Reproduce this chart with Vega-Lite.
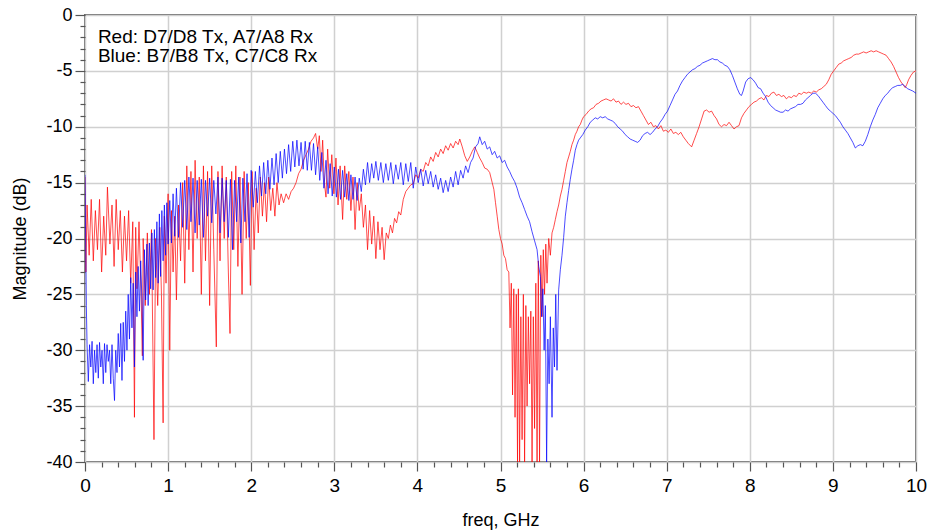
{
"$schema": "https://vega.github.io/schema/vega-lite/v6.json",
"width": 831, "height": 447,
"autosize": {"type": "none"},
"padding": {"left": 85, "top": 15, "right": 11, "bottom": 69},
"background": "white",
"config": {
  "font": "Liberation Sans",
  "view": {"stroke": "#6e6e6e", "strokeWidth": 2},
  "axis": {"labelFont": "Liberation Sans", "titleFont": "Liberation Sans", "labelColor": "#000", "titleColor": "#000", "titleFontWeight": "normal", "labelFontSize": 18, "titleFontSize": 18, "domain": false, "tickColor": "#555", "tickWidth": 1.2, "gridColor": "#d0d0d0", "gridWidth": 1.5}
},
"datasets": {
"red": [
{"f":0.000,"db":-14.5},{"f":0.010,"db":-23},{"f":0.025,"db":-17},{"f":0.050,"db":-21.5},{"f":0.075,"db":-16.5},{"f":0.100,"db":-22},{"f":0.125,"db":-17.5},{"f":0.150,"db":-21},{"f":0.175,"db":-16.5},{"f":0.200,"db":-23},{"f":0.225,"db":-18},{"f":0.250,"db":-21.5},{"f":0.270,"db":-15.4},{"f":0.300,"db":-20.5},{"f":0.325,"db":-17},{"f":0.350,"db":-22.5},{"f":0.375,"db":-16.5},{"f":0.400,"db":-21},{"f":0.425,"db":-17.5},{"f":0.450,"db":-23},{"f":0.475,"db":-18},{"f":0.500,"db":-22},{"f":0.525,"db":-17.5},{"f":0.550,"db":-24},{"f":0.575,"db":-18.5},{"f":0.595,"db":-36},{"f":0.610,"db":-19},{"f":0.625,"db":-24.5},{"f":0.650,"db":-18.5},{"f":0.675,"db":-25},{"f":0.690,"db":-30.5},{"f":0.700,"db":-20},{"f":0.725,"db":-26},{"f":0.750,"db":-19.5},{"f":0.775,"db":-25},{"f":0.800,"db":-19.2},{"f":0.830,"db":-38},{"f":0.850,"db":-20},{"f":0.875,"db":-26},{"f":0.900,"db":-19},{"f":0.920,"db":-25},{"f":0.940,"db":-36.5},{"f":0.955,"db":-18},{"f":0.975,"db":-24},{"f":1.000,"db":-16},{"f":1.020,"db":-30},{"f":1.040,"db":-17.5},{"f":1.060,"db":-23},{"f":1.080,"db":-18},{"f":1.100,"db":-25.5},{"f":1.125,"db":-17},{"f":1.150,"db":-22},{"f":1.175,"db":-15},{"f":1.200,"db":-24},{"f":1.225,"db":-13.5},{"f":1.250,"db":-21},{"f":1.275,"db":-14},{"f":1.300,"db":-23},{"f":1.325,"db":-13},{"f":1.350,"db":-20},{"f":1.375,"db":-14.5},{"f":1.400,"db":-25},{"f":1.425,"db":-13.5},{"f":1.450,"db":-22},{"f":1.475,"db":-14},{"f":1.500,"db":-26},{"f":1.525,"db":-13.5},{"f":1.550,"db":-21},{"f":1.580,"db":-29.7},{"f":1.600,"db":-14},{"f":1.625,"db":-22},{"f":1.650,"db":-13.5},{"f":1.675,"db":-20},{"f":1.700,"db":-14.5},{"f":1.725,"db":-23},{"f":1.745,"db":-28.5},{"f":1.765,"db":-14},{"f":1.790,"db":-21},{"f":1.815,"db":-13.5},{"f":1.840,"db":-22.5},{"f":1.865,"db":-14.5},{"f":1.890,"db":-25},{"f":1.915,"db":-14},{"f":1.940,"db":-20},{"f":1.965,"db":-15},{"f":1.990,"db":-24.2},{"f":2.010,"db":-14},{"f":2.035,"db":-21},{"f":2.060,"db":-15.5},{"f":2.085,"db":-19.5},{"f":2.110,"db":-14.5},{"f":2.135,"db":-18},{"f":2.160,"db":-15},{"f":2.185,"db":-18.5},{"f":2.210,"db":-14.5},{"f":2.235,"db":-17.5},{"f":2.260,"db":-15.5},{"f":2.285,"db":-18},{"f":2.310,"db":-15},{"f":2.335,"db":-17},{"f":2.360,"db":-16},{"f":2.390,"db":-16.8},{"f":2.420,"db":-16},{"f":2.450,"db":-16.5},{"f":2.480,"db":-15.8},{"f":2.510,"db":-15.5},{"f":2.540,"db":-15},{"f":2.570,"db":-14.2},{"f":2.600,"db":-13.8},{"f":2.630,"db":-13},{"f":2.660,"db":-12.5},{"f":2.690,"db":-12},{"f":2.720,"db":-11.3},{"f":2.750,"db":-11},{"f":2.775,"db":-10.6},{"f":2.800,"db":-12},{"f":2.820,"db":-10.8},{"f":2.840,"db":-14},{"f":2.860,"db":-11.2},{"f":2.880,"db":-15},{"f":2.900,"db":-16.3},{"f":2.920,"db":-12},{"f":2.945,"db":-15.5},{"f":2.970,"db":-12.5},{"f":2.995,"db":-16},{"f":3.020,"db":-12.8},{"f":3.045,"db":-17},{"f":3.070,"db":-13.5},{"f":3.100,"db":-18.3},{"f":3.125,"db":-13.5},{"f":3.150,"db":-16.5},{"f":3.175,"db":-14},{"f":3.200,"db":-17.5},{"f":3.225,"db":-14.5},{"f":3.250,"db":-19.2},{"f":3.275,"db":-15},{"f":3.300,"db":-17.5},{"f":3.325,"db":-16},{"f":3.350,"db":-19},{"f":3.375,"db":-17},{"f":3.400,"db":-21},{"f":3.425,"db":-17.5},{"f":3.450,"db":-20.5},{"f":3.475,"db":-18},{"f":3.500,"db":-21.8},{"f":3.525,"db":-18.5},{"f":3.550,"db":-21},{"f":3.575,"db":-19},{"f":3.600,"db":-21.9},{"f":3.625,"db":-19.5},{"f":3.650,"db":-20},{"f":3.675,"db":-18.8},{"f":3.700,"db":-19.5},{"f":3.725,"db":-18.2},{"f":3.750,"db":-18.6},{"f":3.775,"db":-17.6},{"f":3.800,"db":-17.9},{"f":3.830,"db":-16.5},{"f":3.860,"db":-15.8},{"f":3.890,"db":-15.5},{"f":3.920,"db":-15.2},{"f":3.950,"db":-15.1},{"f":3.980,"db":-14.3},{"f":4.010,"db":-14.6},{"f":4.040,"db":-13.8},{"f":4.070,"db":-14},{"f":4.100,"db":-13.2},{"f":4.130,"db":-13.5},{"f":4.160,"db":-12.7},{"f":4.190,"db":-13.1},{"f":4.220,"db":-12.3},{"f":4.250,"db":-12.7},{"f":4.280,"db":-12},{"f":4.310,"db":-12.4},{"f":4.340,"db":-11.7},{"f":4.370,"db":-12.1},{"f":4.400,"db":-11.5},{"f":4.430,"db":-11.9},{"f":4.460,"db":-11.3},{"f":4.490,"db":-11.6},{"f":4.510,"db":-11.1},{"f":4.540,"db":-11.8},{"f":4.570,"db":-12.6},{"f":4.600,"db":-13.1},{"f":4.630,"db":-12.7},{"f":4.660,"db":-12.2},{"f":4.690,"db":-11.8},{"f":4.720,"db":-12.3},{"f":4.750,"db":-12.8},{"f":4.780,"db":-13.2},{"f":4.810,"db":-13.7},{"f":4.840,"db":-13.8},{"f":4.870,"db":-14.1},{"f":4.900,"db":-15},{"f":4.920,"db":-15.6},{"f":4.940,"db":-16.8},{"f":4.960,"db":-18},{"f":4.980,"db":-19.2},{"f":5.000,"db":-20},{"f":5.020,"db":-20.5},{"f":5.040,"db":-21.5},{"f":5.060,"db":-21.8},{"f":5.080,"db":-22.8},{"f":5.100,"db":-23},{"f":5.115,"db":-28},{"f":5.130,"db":-24},{"f":5.145,"db":-34},{"f":5.160,"db":-24.5},{"f":5.175,"db":-36},{"f":5.190,"db":-25},{"f":5.205,"db":-40},{"f":5.215,"db":-24.5},{"f":5.230,"db":-40},{"f":5.245,"db":-27},{"f":5.260,"db":-38},{"f":5.275,"db":-25},{"f":5.290,"db":-40},{"f":5.305,"db":-26},{"f":5.320,"db":-35},{"f":5.335,"db":-27},{"f":5.350,"db":-33},{"f":5.365,"db":-26.5},{"f":5.380,"db":-40},{"f":5.395,"db":-27},{"f":5.410,"db":-37},{"f":5.425,"db":-24},{"f":5.440,"db":-40},{"f":5.455,"db":-22},{"f":5.470,"db":-40},{"f":5.485,"db":-21.5},{"f":5.500,"db":-27},{"f":5.515,"db":-21},{"f":5.530,"db":-25},{"f":5.545,"db":-20.5},{"f":5.560,"db":-24},{"f":5.580,"db":-20},{"f":5.600,"db":-21.5},{"f":5.620,"db":-19.5},{"f":5.640,"db":-19},{"f":5.660,"db":-18.3},{"f":5.680,"db":-17.6},{"f":5.700,"db":-17},{"f":5.720,"db":-16.2},{"f":5.740,"db":-15.6},{"f":5.760,"db":-14.8},{"f":5.780,"db":-14},{"f":5.800,"db":-13.2},{"f":5.820,"db":-12.7},{"f":5.840,"db":-12.2},{"f":5.860,"db":-11.6},{"f":5.880,"db":-11.2},{"f":5.900,"db":-10.7},{"f":5.920,"db":-10.4},{"f":5.940,"db":-10},{"f":5.960,"db":-9.8},{"f":5.980,"db":-9.4},{"f":6.000,"db":-9.1},{"f":6.030,"db":-8.9},{"f":6.060,"db":-8.6},{"f":6.090,"db":-8.4},{"f":6.120,"db":-8.3},{"f":6.150,"db":-8.0},{"f":6.180,"db":-7.9},{"f":6.210,"db":-7.7},{"f":6.240,"db":-7.6},{"f":6.270,"db":-7.5},{"f":6.300,"db":-7.6},{"f":6.330,"db":-7.7},{"f":6.360,"db":-7.5},{"f":6.390,"db":-7.8},{"f":6.420,"db":-7.7},{"f":6.450,"db":-8.0},{"f":6.480,"db":-7.8},{"f":6.510,"db":-8.0},{"f":6.540,"db":-7.9},{"f":6.570,"db":-8.2},{"f":6.600,"db":-8.1},{"f":6.630,"db":-8.3},{"f":6.660,"db":-8.2},{"f":6.690,"db":-8.6},{"f":6.720,"db":-9.0},{"f":6.750,"db":-9.4},{"f":6.780,"db":-9.8},{"f":6.810,"db":-9.6},{"f":6.840,"db":-10.0},{"f":6.870,"db":-9.9},{"f":6.900,"db":-10.2},{"f":6.930,"db":-9.9},{"f":6.960,"db":-10.4},{"f":6.990,"db":-10.3},{"f":7.020,"db":-10.5},{"f":7.050,"db":-10.2},{"f":7.080,"db":-10.6},{"f":7.110,"db":-10.5},{"f":7.140,"db":-10.7},{"f":7.170,"db":-10.5},{"f":7.200,"db":-10.9},{"f":7.230,"db":-11.2},{"f":7.260,"db":-11.5},{"f":7.300,"db":-11.8},{"f":7.330,"db":-11.2},{"f":7.360,"db":-10.6},{"f":7.390,"db":-10.0},{"f":7.420,"db":-9.3},{"f":7.450,"db":-8.6},{"f":7.480,"db":-8.5},{"f":7.510,"db":-8.7},{"f":7.540,"db":-8.6},{"f":7.570,"db":-9.0},{"f":7.600,"db":-9.3},{"f":7.630,"db":-9.8},{"f":7.660,"db":-10.0},{"f":7.690,"db":-9.8},{"f":7.720,"db":-9.9},{"f":7.750,"db":-9.6},{"f":7.780,"db":-9.9},{"f":7.810,"db":-10.2},{"f":7.840,"db":-10.0},{"f":7.870,"db":-9.9},{"f":7.900,"db":-9.2},{"f":7.930,"db":-8.8},{"f":7.960,"db":-8.5},{"f":7.990,"db":-8.2},{"f":8.020,"db":-8.0},{"f":8.050,"db":-7.8},{"f":8.080,"db":-7.7},{"f":8.110,"db":-7.5},{"f":8.140,"db":-7.4},{"f":8.170,"db":-7.6},{"f":8.200,"db":-7.2},{"f":8.230,"db":-7.3},{"f":8.260,"db":-7.0},{"f":8.290,"db":-6.9},{"f":8.320,"db":-7.2},{"f":8.350,"db":-7.1},{"f":8.380,"db":-7.3},{"f":8.410,"db":-7.2},{"f":8.440,"db":-7.5},{"f":8.470,"db":-7.3},{"f":8.500,"db":-7.4},{"f":8.530,"db":-7.2},{"f":8.560,"db":-7.3},{"f":8.590,"db":-7.0},{"f":8.620,"db":-7.1},{"f":8.650,"db":-6.9},{"f":8.680,"db":-7.0},{"f":8.710,"db":-6.9},{"f":8.740,"db":-7.0},{"f":8.770,"db":-6.8},{"f":8.800,"db":-6.9},{"f":8.830,"db":-6.7},{"f":8.860,"db":-6.6},{"f":8.890,"db":-6.4},{"f":8.920,"db":-6.2},{"f":8.950,"db":-5.8},{"f":8.980,"db":-5.3},{"f":9.010,"db":-5.0},{"f":9.040,"db":-4.7},{"f":9.070,"db":-4.4},{"f":9.100,"db":-4.3},{"f":9.130,"db":-4.1},{"f":9.160,"db":-4.0},{"f":9.190,"db":-3.9},{"f":9.220,"db":-3.8},{"f":9.250,"db":-3.6},{"f":9.280,"db":-3.5},{"f":9.310,"db":-3.5},{"f":9.340,"db":-3.4},{"f":9.370,"db":-3.3},{"f":9.400,"db":-3.4},{"f":9.430,"db":-3.3},{"f":9.460,"db":-3.2},{"f":9.490,"db":-3.3},{"f":9.520,"db":-3.2},{"f":9.550,"db":-3.3},{"f":9.580,"db":-3.4},{"f":9.610,"db":-3.5},{"f":9.640,"db":-3.6},{"f":9.670,"db":-3.9},{"f":9.700,"db":-4.2},{"f":9.730,"db":-4.6},{"f":9.760,"db":-5.1},{"f":9.790,"db":-5.6},{"f":9.820,"db":-6.0},{"f":9.850,"db":-6.3},{"f":9.870,"db":-6.5},{"f":9.890,"db":-6.2},{"f":9.910,"db":-5.8},{"f":9.940,"db":-5.4},{"f":9.970,"db":-5.1},{"f":10.000,"db":-5.0}
],
"blue": [
{"f":0.000,"db":-14.3},{"f":0.008,"db":-20},{"f":0.016,"db":-26},{"f":0.025,"db":-29.5},{"f":0.040,"db":-32.8},{"f":0.055,"db":-29.5},{"f":0.070,"db":-31.5},{"f":0.085,"db":-29.2},{"f":0.100,"db":-33},{"f":0.115,"db":-30},{"f":0.130,"db":-32},{"f":0.145,"db":-29.5},{"f":0.160,"db":-32.5},{"f":0.175,"db":-29.3},{"f":0.190,"db":-31.5},{"f":0.205,"db":-30},{"f":0.220,"db":-33},{"f":0.235,"db":-29.4},{"f":0.250,"db":-32},{"f":0.265,"db":-29.5},{"f":0.280,"db":-31},{"f":0.295,"db":-30},{"f":0.310,"db":-33},{"f":0.325,"db":-29.5},{"f":0.340,"db":-32.5},{"f":0.355,"db":-34.5},{"f":0.370,"db":-30},{"f":0.385,"db":-32},{"f":0.400,"db":-28.5},{"f":0.415,"db":-31.5},{"f":0.430,"db":-27.6},{"f":0.445,"db":-32.7},{"f":0.460,"db":-27.5},{"f":0.475,"db":-31},{"f":0.490,"db":-26.5},{"f":0.505,"db":-30},{"f":0.520,"db":-25},{"f":0.535,"db":-29},{"f":0.550,"db":-23.5},{"f":0.565,"db":-28},{"f":0.580,"db":-24},{"f":0.595,"db":-31.5},{"f":0.610,"db":-23},{"f":0.625,"db":-27},{"f":0.640,"db":-22.5},{"f":0.655,"db":-26.5},{"f":0.670,"db":-22},{"f":0.685,"db":-25.5},{"f":0.700,"db":-30.9},{"f":0.715,"db":-21},{"f":0.730,"db":-25.5},{"f":0.745,"db":-20.5},{"f":0.760,"db":-26},{"f":0.775,"db":-20.4},{"f":0.790,"db":-24.5},{"f":0.805,"db":-19.5},{"f":0.820,"db":-24.6},{"f":0.835,"db":-19.2},{"f":0.850,"db":-23.5},{"f":0.865,"db":-18.5},{"f":0.880,"db":-24},{"f":0.895,"db":-17.8},{"f":0.910,"db":-23.4},{"f":0.925,"db":-17.5},{"f":0.940,"db":-22},{"f":0.955,"db":-17},{"f":0.970,"db":-21.5},{"f":0.985,"db":-16.8},{"f":1.000,"db":-20.5},{"f":1.020,"db":-16.6},{"f":1.040,"db":-20.4},{"f":1.060,"db":-16},{"f":1.080,"db":-19.8},{"f":1.100,"db":-15.5},{"f":1.125,"db":-19.9},{"f":1.150,"db":-15},{"f":1.175,"db":-19},{"f":1.200,"db":-14.8},{"f":1.225,"db":-19.2},{"f":1.250,"db":-14.5},{"f":1.275,"db":-18.5},{"f":1.300,"db":-14.6},{"f":1.325,"db":-19.5},{"f":1.350,"db":-14.8},{"f":1.375,"db":-18.8},{"f":1.400,"db":-14.7},{"f":1.425,"db":-19.9},{"f":1.450,"db":-14.8},{"f":1.475,"db":-18},{"f":1.500,"db":-14.6},{"f":1.525,"db":-18.6},{"f":1.550,"db":-14.8},{"f":1.575,"db":-17.8},{"f":1.600,"db":-14.5},{"f":1.625,"db":-19.5},{"f":1.650,"db":-14.6},{"f":1.675,"db":-18.5},{"f":1.700,"db":-14.8},{"f":1.725,"db":-19.9},{"f":1.750,"db":-14.7},{"f":1.775,"db":-21},{"f":1.800,"db":-14.8},{"f":1.825,"db":-18.5},{"f":1.850,"db":-14.5},{"f":1.875,"db":-20.4},{"f":1.900,"db":-14.6},{"f":1.925,"db":-18.5},{"f":1.950,"db":-14.2},{"f":1.975,"db":-19.9},{"f":2.000,"db":-13.9},{"f":2.025,"db":-17.2},{"f":2.050,"db":-14},{"f":2.075,"db":-16.8},{"f":2.100,"db":-13.5},{"f":2.125,"db":-16.2},{"f":2.150,"db":-13.2},{"f":2.175,"db":-16},{"f":2.200,"db":-13},{"f":2.225,"db":-15.6},{"f":2.250,"db":-12.8},{"f":2.275,"db":-15.2},{"f":2.300,"db":-12.4},{"f":2.325,"db":-15},{"f":2.350,"db":-12.2},{"f":2.375,"db":-14.6},{"f":2.400,"db":-12},{"f":2.425,"db":-14.2},{"f":2.450,"db":-11.6},{"f":2.475,"db":-14},{"f":2.500,"db":-11.3},{"f":2.525,"db":-13.6},{"f":2.550,"db":-11.2},{"f":2.575,"db":-13.5},{"f":2.600,"db":-11.4},{"f":2.625,"db":-13.8},{"f":2.650,"db":-11.3},{"f":2.675,"db":-13.9},{"f":2.700,"db":-11.4},{"f":2.725,"db":-13.9},{"f":2.750,"db":-11.5},{"f":2.775,"db":-14.3},{"f":2.800,"db":-11.8},{"f":2.825,"db":-14.8},{"f":2.850,"db":-12.3},{"f":2.875,"db":-15.5},{"f":2.900,"db":-13},{"f":2.925,"db":-16},{"f":2.950,"db":-13.3},{"f":2.975,"db":-16.2},{"f":3.000,"db":-13.6},{"f":3.025,"db":-16.3},{"f":3.050,"db":-13.8},{"f":3.075,"db":-16.5},{"f":3.100,"db":-13.9},{"f":3.125,"db":-16.3},{"f":3.150,"db":-14.2},{"f":3.175,"db":-16.6},{"f":3.200,"db":-14.3},{"f":3.225,"db":-16.5},{"f":3.250,"db":-14.5},{"f":3.275,"db":-16.6},{"f":3.300,"db":-14.6},{"f":3.325,"db":-15.8},{"f":3.350,"db":-13.8},{"f":3.375,"db":-15.2},{"f":3.400,"db":-13.2},{"f":3.425,"db":-15},{"f":3.450,"db":-13.3},{"f":3.475,"db":-14.6},{"f":3.500,"db":-13.1},{"f":3.530,"db":-14.8},{"f":3.560,"db":-13.2},{"f":3.590,"db":-15},{"f":3.620,"db":-13.3},{"f":3.650,"db":-14.8},{"f":3.680,"db":-13.2},{"f":3.710,"db":-15.1},{"f":3.740,"db":-13.4},{"f":3.770,"db":-14.7},{"f":3.800,"db":-13.2},{"f":3.830,"db":-15.2},{"f":3.860,"db":-13.3},{"f":3.890,"db":-14.9},{"f":3.920,"db":-13.2},{"f":3.950,"db":-15.5},{"f":3.980,"db":-13.6},{"f":4.010,"db":-15},{"f":4.040,"db":-13.8},{"f":4.070,"db":-15.3},{"f":4.100,"db":-13.9},{"f":4.130,"db":-15.1},{"f":4.160,"db":-14},{"f":4.190,"db":-15.4},{"f":4.220,"db":-14.3},{"f":4.250,"db":-15.6},{"f":4.280,"db":-14.6},{"f":4.310,"db":-15.9},{"f":4.340,"db":-14.8},{"f":4.370,"db":-15.8},{"f":4.400,"db":-14.5},{"f":4.430,"db":-15.4},{"f":4.460,"db":-14},{"f":4.490,"db":-15.2},{"f":4.520,"db":-13.9},{"f":4.550,"db":-14.6},{"f":4.580,"db":-13.5},{"f":4.610,"db":-14.1},{"f":4.640,"db":-13.2},{"f":4.670,"db":-12.8},{"f":4.700,"db":-11.8},{"f":4.730,"db":-11.5},{"f":4.750,"db":-10.9},{"f":4.780,"db":-11.6},{"f":4.810,"db":-11.3},{"f":4.840,"db":-12},{"f":4.870,"db":-11.8},{"f":4.900,"db":-12.5},{"f":4.930,"db":-12.2},{"f":4.960,"db":-12.8},{"f":4.990,"db":-12.6},{"f":5.020,"db":-13.2},{"f":5.050,"db":-13},{"f":5.080,"db":-13.6},{"f":5.110,"db":-14},{"f":5.140,"db":-14.5},{"f":5.170,"db":-14.9},{"f":5.200,"db":-15.5},{"f":5.230,"db":-16.3},{"f":5.260,"db":-16.8},{"f":5.290,"db":-17.4},{"f":5.320,"db":-18},{"f":5.350,"db":-18.5},{"f":5.380,"db":-19.4},{"f":5.410,"db":-20.2},{"f":5.440,"db":-21},{"f":5.460,"db":-22.5},{"f":5.480,"db":-23.4},{"f":5.495,"db":-27},{"f":5.510,"db":-24.5},{"f":5.525,"db":-30},{"f":5.540,"db":-26},{"f":5.555,"db":-40},{"f":5.570,"db":-29},{"f":5.585,"db":-33},{"f":5.600,"db":-27},{"f":5.620,"db":-36},{"f":5.635,"db":-28},{"f":5.650,"db":-31.5},{"f":5.665,"db":-25},{"f":5.680,"db":-31.8},{"f":5.700,"db":-24.6},{"f":5.720,"db":-22.8},{"f":5.740,"db":-21.5},{"f":5.760,"db":-19.9},{"f":5.780,"db":-18},{"f":5.800,"db":-16.8},{"f":5.820,"db":-15.7},{"f":5.840,"db":-14.7},{"f":5.860,"db":-13.8},{"f":5.880,"db":-13},{"f":5.900,"db":-12.1},{"f":5.920,"db":-11.6},{"f":5.940,"db":-11.2},{"f":5.960,"db":-11.0},{"f":5.990,"db":-10.7},{"f":6.020,"db":-10.3},{"f":6.050,"db":-10.0},{"f":6.080,"db":-9.6},{"f":6.110,"db":-9.4},{"f":6.140,"db":-9.2},{"f":6.170,"db":-9.3},{"f":6.200,"db":-9.1},{"f":6.230,"db":-9.2},{"f":6.260,"db":-9.1},{"f":6.290,"db":-9.3},{"f":6.320,"db":-9.4},{"f":6.350,"db":-9.5},{"f":6.380,"db":-9.7},{"f":6.410,"db":-10.0},{"f":6.440,"db":-10.2},{"f":6.470,"db":-10.4},{"f":6.500,"db":-10.7},{"f":6.530,"db":-10.9},{"f":6.560,"db":-11.1},{"f":6.590,"db":-11.2},{"f":6.620,"db":-11.3},{"f":6.650,"db":-11.4},{"f":6.680,"db":-11.2},{"f":6.710,"db":-10.8},{"f":6.740,"db":-10.6},{"f":6.770,"db":-10.5},{"f":6.800,"db":-10.7},{"f":6.830,"db":-10.5},{"f":6.860,"db":-10.2},{"f":6.890,"db":-10.0},{"f":6.920,"db":-9.6},{"f":6.950,"db":-9.3},{"f":6.980,"db":-8.9},{"f":7.010,"db":-8.6},{"f":7.040,"db":-8.1},{"f":7.070,"db":-7.6},{"f":7.100,"db":-7.1},{"f":7.130,"db":-6.8},{"f":7.160,"db":-6.3},{"f":7.190,"db":-5.9},{"f":7.220,"db":-5.6},{"f":7.250,"db":-5.3},{"f":7.280,"db":-5.1},{"f":7.310,"db":-4.9},{"f":7.340,"db":-4.8},{"f":7.370,"db":-4.6},{"f":7.400,"db":-4.5},{"f":7.430,"db":-4.3},{"f":7.460,"db":-4.2},{"f":7.490,"db":-4.1},{"f":7.520,"db":-4.0},{"f":7.550,"db":-3.9},{"f":7.580,"db":-4.0},{"f":7.610,"db":-4.0},{"f":7.640,"db":-4.2},{"f":7.670,"db":-4.3},{"f":7.700,"db":-4.5},{"f":7.730,"db":-4.6},{"f":7.760,"db":-4.9},{"f":7.790,"db":-5.4},{"f":7.820,"db":-6.0},{"f":7.850,"db":-6.6},{"f":7.880,"db":-7.1},{"f":7.900,"db":-7.2},{"f":7.920,"db":-6.8},{"f":7.950,"db":-6.0},{"f":7.980,"db":-5.7},{"f":8.010,"db":-5.6},{"f":8.040,"db":-5.8},{"f":8.070,"db":-6.1},{"f":8.100,"db":-6.5},{"f":8.130,"db":-6.6},{"f":8.160,"db":-7.0},{"f":8.190,"db":-7.3},{"f":8.220,"db":-7.8},{"f":8.250,"db":-8.1},{"f":8.280,"db":-8.3},{"f":8.310,"db":-8.5},{"f":8.340,"db":-8.6},{"f":8.370,"db":-8.7},{"f":8.400,"db":-8.7},{"f":8.430,"db":-8.5},{"f":8.460,"db":-8.6},{"f":8.490,"db":-8.4},{"f":8.520,"db":-8.3},{"f":8.550,"db":-8.2},{"f":8.580,"db":-8.0},{"f":8.610,"db":-8.0},{"f":8.640,"db":-7.9},{"f":8.670,"db":-7.6},{"f":8.700,"db":-7.4},{"f":8.730,"db":-7.2},{"f":8.760,"db":-7.0},{"f":8.790,"db":-7.0},{"f":8.820,"db":-7.2},{"f":8.850,"db":-7.5},{"f":8.880,"db":-7.8},{"f":8.910,"db":-8.1},{"f":8.940,"db":-8.4},{"f":8.970,"db":-8.6},{"f":9.000,"db":-8.8},{"f":9.030,"db":-9.0},{"f":9.060,"db":-9.3},{"f":9.090,"db":-9.6},{"f":9.120,"db":-10.0},{"f":9.150,"db":-10.3},{"f":9.180,"db":-10.6},{"f":9.210,"db":-11.0},{"f":9.240,"db":-11.4},{"f":9.270,"db":-11.9},{"f":9.300,"db":-11.7},{"f":9.330,"db":-11.6},{"f":9.360,"db":-11.7},{"f":9.390,"db":-11.3},{"f":9.420,"db":-10.7},{"f":9.450,"db":-10.0},{"f":9.480,"db":-9.4},{"f":9.510,"db":-8.9},{"f":9.540,"db":-8.3},{"f":9.570,"db":-7.9},{"f":9.600,"db":-7.5},{"f":9.630,"db":-7.2},{"f":9.660,"db":-7.0},{"f":9.690,"db":-6.7},{"f":9.720,"db":-6.5},{"f":9.750,"db":-6.4},{"f":9.780,"db":-6.3},{"f":9.810,"db":-6.3},{"f":9.840,"db":-6.2},{"f":9.870,"db":-6.4},{"f":9.900,"db":-6.6},{"f":9.930,"db":-6.7},{"f":9.960,"db":-6.8},{"f":10.000,"db":-7.0}
]
},
"layer": [
{
  "data": {"name": "red"},
  "mark": {"type": "line", "color": "#ff0000", "strokeWidth": 1, "opacity": 0.7, "clip": true},
  "encoding": {
    "x": {"field": "f", "type": "quantitative", "scale": {"domain": [0, 10], "nice": false, "zero": false},
      "axis": {"title": "freq, GHz", "tickCount": 200, "values": [0,0.2,0.4,0.6,0.8,1,1.2,1.4,1.6,1.8,2,2.2,2.4,2.6,2.8,3,3.2,3.4,3.6,3.8,4,4.2,4.4,4.6,4.8,5,5.2,5.4,5.6,5.8,6,6.2,6.4,6.6,6.8,7,7.2,7.4,7.6,7.8,8,8.2,8.4,8.6,8.8,9,9.2,9.4,9.6,9.8,10],
        "labelExpr": "abs(datum.value - round(datum.value)) < 0.001 ? toString(round(datum.value)) : ''",
        "labelOverlap": false, "labelFlush": false, "labelPadding": 5, "labelFontSize": 19,
        "tickSize": {"condition": {"test": "abs(datum.value - round(datum.value)) < 0.001", "value": 9}, "value": 5},
        "gridOpacity": {"condition": {"test": "abs(datum.value - round(datum.value)) < 0.001", "value": 1}, "value": 0},
        "titleX": 415.5, "titleY": 58, "titleBaseline": "middle", "titleAlign": "center"}},
    "y": {"field": "db", "type": "quantitative", "scale": {"domain": [-40, 0], "nice": false, "zero": false},
      "axis": {"title": "Magnitude (dB)", "tickCount": 200, "values": [-40,-39,-38,-37,-36,-35,-34,-33,-32,-31,-30,-29,-28,-27,-26,-25,-24,-23,-22,-21,-20,-19,-18,-17,-16,-15,-14,-13,-12,-11,-10,-9,-8,-7,-6,-5,-4,-3,-2,-1,0],
        "labelExpr": "datum.value % 5 === 0 ? toString(datum.value) : ''",
        "labelOverlap": false, "labelFlush": false, "labelPadding": 3,
        "tickSize": {"condition": {"test": "datum.value % 5 === 0", "value": 10}, "value": 5},
        "gridOpacity": {"condition": {"test": "datum.value % 5 === 0", "value": 1}, "value": 0},
        "titleX": -65, "titleY": 223.5, "titleBaseline": "middle", "titleAlign": "center", "titleAngle": -90}}
  }
},
{
  "data": {"name": "blue"},
  "mark": {"type": "line", "color": "#0000ff", "strokeWidth": 1, "opacity": 0.7, "clip": true},
  "encoding": {
    "x": {"field": "f", "type": "quantitative"},
    "y": {"field": "db", "type": "quantitative"}
  }
},
{
  "data": {"values": [{"label": "Red: D7/D8 Tx, A7/A8 Rx"}]},
  "mark": {"type": "text", "align": "left", "baseline": "alphabetic", "fontSize": 19, "font": "Liberation Sans", "color": "#000"},
  "encoding": {"x": {"datum": 0.155}, "y": {"datum": -2.5}, "text": {"field": "label"}}
},
{
  "data": {"values": [{"label": "Blue: B7/B8 Tx, C7/C8 Rx"}]},
  "mark": {"type": "text", "align": "left", "baseline": "alphabetic", "fontSize": 19, "font": "Liberation Sans", "color": "#000"},
  "encoding": {"x": {"datum": 0.155}, "y": {"datum": -4.2}, "text": {"field": "label"}}
}
]
}
